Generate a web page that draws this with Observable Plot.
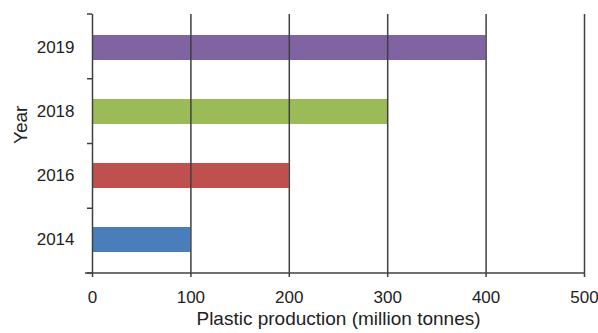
<!DOCTYPE html>
<html><head><meta charset="utf-8">
<script src="https://cdn.jsdelivr.net/npm/d3@7"></script>
<script src="https://cdn.jsdelivr.net/npm/@observablehq/plot@0.6"></script>
<style>body{margin:0;background:#fff;} svg{display:block;}</style>
</head><body><div id="chart"></div>
<script>
const years = ["2019", "2018", "2016", "2014"];
const production = [400, 300, 200, 100];
const xTicks = [0, 100, 200, 300, 400, 500];
const barColors = ["#8064A2", "#9BBB59", "#C0504D", "#4A7EBB"];
const xTitle = "Plastic production (million tonnes)";
const yTitle = "Year";

const data = years.map((year, i) => ({year, value: production[i]}));
const axisColor = "#404040";
const fontFamily = "'Liberation Sans', Arial, sans-serif";

function frameTicks(index, scales, values, dimensions) {
  const {width, height, marginTop, marginBottom, marginLeft, marginRight} = dimensions;
  const n = years.length;
  const top = marginTop, bottom = height - marginBottom;
  const step = (bottom - top) / n;
  const g = d3.create("svg:g").attr("stroke", axisColor).attr("stroke-width", 1.5);
  for (let k = 0; k <= n; k++) {
    const yy = top + k * step;
    g.append("line").attr("x1", marginLeft - 5).attr("x2", marginLeft).attr("y1", yy).attr("y2", yy);
  }
  g.append("line").attr("x1", marginLeft - 7).attr("x2", width - marginRight)
    .attr("y1", bottom).attr("y2", bottom);
  return g.node();
}

const chart = Plot.plot({
  width: 598,
  height: 333,
  marginTop: 14,
  marginRight: 14,
  marginBottom: 60,
  marginLeft: 92,
  style: {fontFamily, fontSize: "17px", color: "#222", background: "#fff"},
  x: {domain: [0, 500], ticks: xTicks, tickSize: 0, tickPadding: 17, label: null},
  y: {domain: years, paddingInner: 0.614, paddingOuter: 0.307, tickSize: 0, tickPadding: 18, label: null},
  color: {domain: years, range: barColors},
  marks: [
    Plot.barX(data, {x: "value", y: "year", fill: "year"}),
    Plot.ruleX(xTicks, {stroke: axisColor, strokeWidth: 1.5, insetBottom: -4}),
    frameTicks,
    Plot.text([xTitle], {text: d => d, frameAnchor: "bottom", dy: 51, fontSize: 19, fill: "#222"}),
    Plot.text([yTitle], {text: d => d, frameAnchor: "left", dx: -72, rotate: -90, fontSize: 19, fill: "#222"})
  ]
});
document.getElementById("chart").appendChild(chart);
</script>
</body></html>
